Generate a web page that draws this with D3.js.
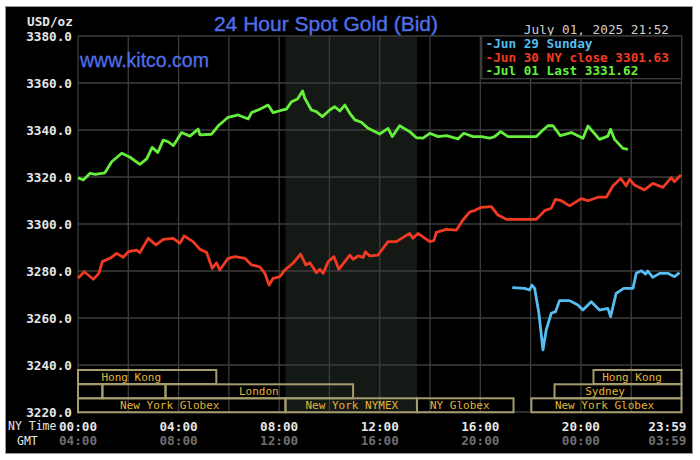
<!DOCTYPE html>
<html><head><meta charset="utf-8">
<script src="https://cdn.jsdelivr.net/npm/d3@7"></script>
<style>body{margin:0;background:#fff}svg{display:block}</style>
</head><body>
<script>
const yTicks = [3220,3240,3260,3280,3300,3320,3340,3360,3380];
const nyTimeLabels = ["00:00","04:00","08:00","12:00","16:00","20:00","23:59"];
const gmtTimeLabels = ["04:00","08:00","12:00","16:00","20:00","00:00","03:59"];
const timeLabelHours = [0,4,8,12,16,20,24];
const legendLabels = ["-Jun 29 Sunday","-Jun 30 NY close 3301.63","-Jul 01 Last 3331.62"];
const seriesColors = ["#56bdf0","#f03a22","#66f03c"];

const jun29 = [[17.27,3272.9],[17.76,3272.6],[17.96,3271.9],[18.05,3274.0],[18.16,3272.6],[18.33,3262.0],[18.49,3246.4],[18.62,3254.9],[18.82,3262.0],[18.99,3262.7],[19.15,3267.4],[19.55,3267.4],[19.88,3265.5],[20.08,3263.4],[20.41,3266.9],[20.74,3263.4],[21.07,3264.1],[21.18,3260.6],[21.40,3270.5],[21.70,3272.6],[22.07,3272.6],[22.20,3279.0],[22.40,3280.1],[22.57,3278.7],[22.66,3280.0],[22.86,3277.3],[23.13,3279.0],[23.46,3279.0],[23.72,3277.6],[23.92,3279.3]];
const jun30 = [[0.00,3276.9],[0.25,3279.7],[0.61,3276.5],[0.83,3279.0],[0.97,3284.0],[1.27,3285.4],[1.54,3287.5],[1.80,3285.8],[2.00,3288.2],[2.33,3288.9],[2.46,3287.8],[2.79,3293.9],[3.10,3291.1],[3.39,3293.5],[3.79,3293.9],[4.05,3291.8],[4.22,3294.9],[4.58,3292.5],[4.85,3289.2],[5.11,3288.0],[5.34,3281.1],[5.51,3283.5],[5.64,3280.4],[5.97,3285.4],[6.24,3286.1],[6.64,3285.4],[6.90,3282.6],[7.23,3281.8],[7.43,3279.0],[7.60,3274.0],[7.76,3276.9],[8.03,3277.6],[8.22,3280.4],[8.55,3283.3],[8.85,3287.2],[9.06,3282.6],[9.22,3283.5],[9.48,3279.3],[9.62,3280.7],[9.75,3279.0],[9.95,3284.0],[10.18,3286.1],[10.37,3280.7],[10.81,3286.8],[10.94,3285.0],[11.14,3286.4],[11.34,3285.8],[11.43,3288.2],[11.60,3286.4],[11.93,3286.8],[12.33,3292.5],[12.66,3292.5],[13.19,3296.0],[13.32,3293.9],[13.52,3296.0],[13.99,3292.5],[14.15,3292.9],[14.25,3296.4],[14.65,3297.7],[15.05,3297.4],[15.31,3301.7],[15.58,3305.2],[15.77,3305.7],[16.04,3307.1],[16.44,3307.4],[16.70,3303.8],[17.03,3302.0],[18.23,3302.0],[18.56,3305.7],[18.82,3306.7],[18.99,3310.5],[19.22,3309.9],[19.55,3307.7],[20.01,3310.8],[20.28,3309.9],[20.68,3311.4],[21.01,3311.4],[21.27,3316.2],[21.58,3319.4],[21.80,3316.2],[21.93,3319.0],[22.13,3316.6],[22.53,3314.5],[22.86,3317.3],[23.26,3315.6],[23.59,3319.7],[23.72,3318.0],[23.98,3320.9]];
const jul01 = [[0.00,3319.7],[0.21,3318.7],[0.48,3321.6],[0.68,3321.1],[1.07,3321.8],[1.34,3326.5],[1.74,3330.1],[2.07,3328.4],[2.46,3325.4],[2.73,3327.7],[2.95,3332.6],[3.17,3330.4],[3.39,3335.7],[3.59,3335.0],[3.79,3333.3],[4.12,3338.9],[4.45,3337.4],[4.78,3340.4],[4.85,3337.9],[5.31,3338.2],[5.58,3341.8],[5.97,3345.4],[6.37,3346.4],[6.77,3344.7],[6.90,3347.4],[7.23,3348.8],[7.56,3350.6],[7.76,3347.4],[8.03,3348.2],[8.29,3348.9],[8.49,3352.0],[8.73,3353.2],[8.93,3356.6],[9.02,3353.5],[9.28,3348.5],[9.48,3347.8],[9.72,3345.7],[10.01,3348.5],[10.21,3349.9],[10.41,3348.1],[10.61,3350.6],[10.81,3347.1],[11.01,3344.3],[11.27,3343.3],[11.54,3340.7],[12.00,3338.3],[12.33,3340.7],[12.50,3337.2],[12.79,3341.8],[13.19,3339.3],[13.46,3336.7],[13.72,3336.5],[13.99,3338.6],[14.32,3337.2],[14.65,3337.6],[15.11,3336.2],[15.34,3338.6],[15.71,3337.2],[16.04,3337.2],[16.37,3336.5],[16.57,3337.2],[16.81,3339.3],[17.10,3337.2],[18.23,3337.2],[18.49,3340.0],[18.69,3341.8],[18.89,3341.8],[19.18,3337.6],[19.62,3338.9],[20.08,3336.5],[20.28,3341.7],[20.74,3336.0],[21.07,3337.4],[21.18,3340.3],[21.34,3336.0],[21.67,3332.2],[21.87,3331.8]];

// sessions: [row, startHour, endHour, label, labelCenterHour]
const sessions = [
  [0, 0, 5.5, "Hong Kong", 2.12],
  [0, 20.5, 24, "Hong Kong", 22.03],
  [1, 0, 0.97, "", 0],
  [1, 0.97, 3.48, "", 0],
  [1, 3.48, 10.94, "London", 7.19],
  [1, 18.95, 24, "Sydney", 20.96],
  [2, 0, 8.25, "New York Globex", 3.65],
  [2, 8.25, 13.48, "New York NYMEX", 10.89],
  [2, 13.48, 17.32, "NY Globex", 15.18],
  [2, 18.03, 24, "New York Globex", 20.94]
];
const shadeHours = [8.25, 13.48];

const W = 700, H = 460;
const svg = d3.select("body").append("svg").attr("width", W).attr("height", H);
const x = d3.scaleLinear().domain([0,24]).range([78, 681.5]);
const y = d3.scaleLinear().domain([3220,3380]).range([412, 36]);
const mono = "'DejaVu Sans Mono', monospace";

svg.append("rect").attr("x",5.5).attr("y",6.5).attr("width",687).attr("height",447)
  .attr("fill","#000").attr("stroke","#9a9a9a").attr("stroke-width",1);

// shading
svg.append("rect").attr("x", x(shadeHours[0])).attr("y", y(3380))
  .attr("width", x(shadeHours[1]) - x(shadeHours[0])).attr("height", y(3220) - y(3380))
  .attr("fill", "#151915");

// grid
const grid = svg.append("g").attr("stroke","#3d3d3d").attr("stroke-width",1.3);
grid.selectAll("line.h").data(yTicks).join("line")
  .attr("x1", x(0)).attr("x2", x(24)).attr("y1", d=>y(d)).attr("y2", d=>y(d));
grid.selectAll("line.v").data(d3.range(0,25,2)).join("line")
  .attr("y1", y(3380)).attr("y2", y(3220)).attr("x1", d=>x(d)).attr("x2", d=>x(d));

// y tick labels
svg.append("g").selectAll("text").data(yTicks).join("text")
  .attr("x", 72).attr("y", d=>y(d)).attr("dy","0.36em").attr("text-anchor","end")
  .attr("fill","#e6e6e6").attr("font-family",mono).attr("font-size",12.7).attr("font-weight","bold")
  .text(d=>d3.format(".1f")(d));
svg.append("text").attr("x",27).attr("y",21).attr("dy","0.36em")
  .attr("fill","#e6e6e6").attr("font-family",mono).attr("font-size",12.7).attr("font-weight","bold").text("USD/oz");

// sessions
const rowTop = [370, 384.3, 398.3], rowH = 14;
const sg = svg.append("g");
sg.selectAll("rect").data(sessions).join("rect")
  .attr("x", d=>x(d[1])).attr("y", d=>rowTop[d[0]])
  .attr("width", d=>x(d[2]) - x(d[1])).attr("height", rowH)
  .attr("fill","none").attr("stroke","#a59c6e").attr("stroke-width",2);
sg.selectAll("text").data(sessions.filter(d=>d[3])).join("text")
  .attr("x", d=>x(d[4])).attr("y", d=>rowTop[d[0]] + rowH/2).attr("dy","0.36em")
  .attr("text-anchor","middle").attr("fill","#e2b43c").attr("font-family",mono).attr("font-size",11)
  .text(d=>d[3]);

// series lines
const line = d3.line().x(d=>x(d[0])).y(d=>y(d[1]));
[jun29, jun30, jul01].forEach((s,i)=>{
  svg.append("path").datum(s).attr("d", line).attr("fill","none")
    .attr("stroke", seriesColors[i]).attr("stroke-width",2.8).attr("stroke-linejoin","round");
});

// time labels
svg.append("g").selectAll("text").data(nyTimeLabels).join("text")
  .attr("x", (d,i)=> i===6 ? x(timeLabelHours[i]) + 5 : x(timeLabelHours[i]))
  .attr("y", 426).attr("dy","0.36em").attr("text-anchor",(d,i)=> i===6 ? "end" : "middle")
  .attr("fill","#e6e6e6").attr("font-family",mono).attr("font-size",12.7).attr("font-weight","bold").text(d=>d);
svg.append("g").selectAll("text").data(gmtTimeLabels).join("text")
  .attr("x", (d,i)=> i===6 ? x(timeLabelHours[i]) + 5 : x(timeLabelHours[i]))
  .attr("y", 440.5).attr("dy","0.36em").attr("text-anchor",(d,i)=> i===6 ? "end" : "middle")
  .attr("fill","#6e6e6e").attr("font-family",mono).attr("font-size",12.7).attr("font-weight","bold").text(d=>d);
svg.append("text").attr("x",8).attr("y",426).attr("dy","0.36em").attr("fill","#e6e6e6")
  .attr("font-family",mono).attr("font-size",11.5).text("NY Time");
svg.append("text").attr("x",17).attr("y",440.5).attr("dy","0.36em").attr("fill","#e6e6e6")
  .attr("font-family",mono).attr("font-size",11.5).text("GMT");

// title
svg.append("text").attr("x",326).attr("y",31).attr("text-anchor","middle")
  .attr("fill","#4f6fe6").attr("stroke","#4f6fe6").attr("stroke-width",0.4)
  .attr("font-family","'Liberation Sans', Arial, sans-serif").attr("font-size",21)
  .text("24 Hour Spot Gold (Bid)");
svg.append("text").attr("x",80).attr("y",67)
  .attr("fill","#4f6fe6").attr("stroke","#4f6fe6").attr("stroke-width",0.3)
  .attr("font-family","'Liberation Sans', Arial, sans-serif").attr("font-size",19.5)
  .text("www.kitco.com");
svg.append("text").attr("x",669).attr("y",29).attr("dy","0.36em").attr("text-anchor","end")
  .attr("fill","#d0d0d0").attr("font-family",mono).attr("font-size",12.7).text("July 01, 2025 21:52");

// legend
svg.append("rect").attr("x",481.7).attr("y",36).attr("width",200).attr("height",42.7)
  .attr("fill","#000").attr("stroke","#3d3d3d").attr("stroke-width",1.3);
svg.append("g").selectAll("text").data(legendLabels).join("text")
  .attr("x",485.5).attr("y",(d,i)=>43.5 + i*13.7).attr("dy","0.36em")
  .attr("fill",(d,i)=>seriesColors[i]).attr("font-family",mono).attr("font-size",12.7).attr("font-weight","bold")
  .text(d=>d);
</script>
</body></html>
